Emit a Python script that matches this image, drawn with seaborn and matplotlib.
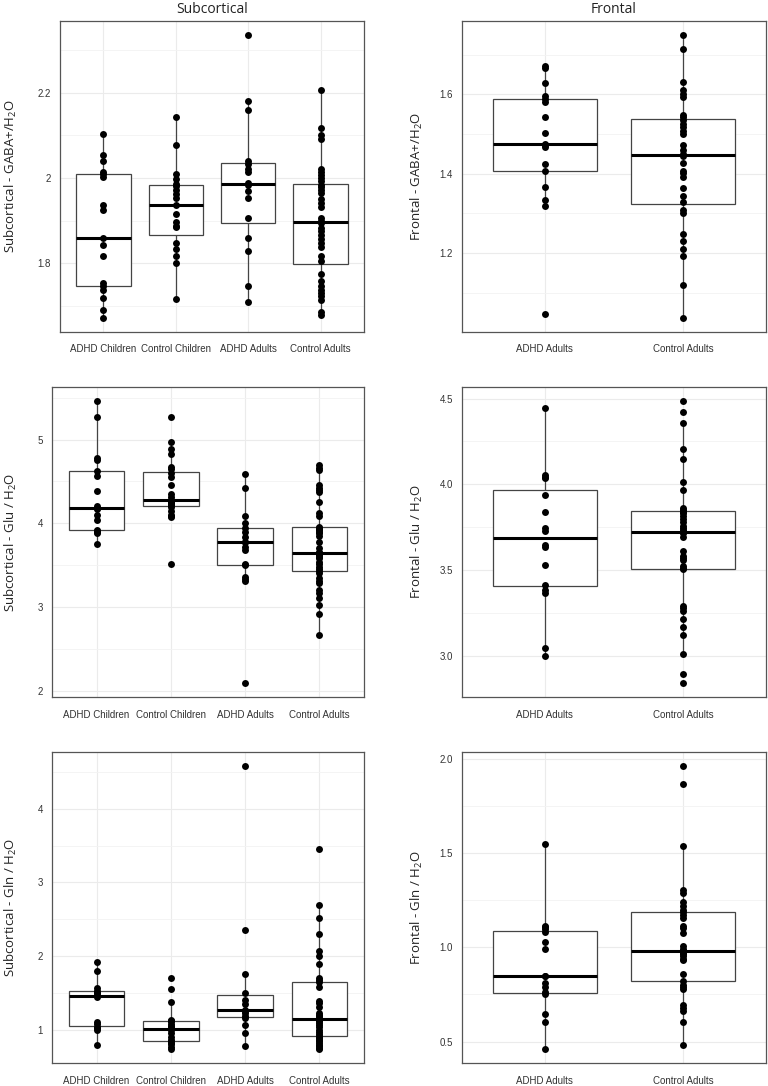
import numpy as np
import pandas as pd
import matplotlib
matplotlib.use('Agg')
import matplotlib.pyplot as plt
import seaborn as sns

# Group names
all_groups = ['ADHD Children', 'Control Children', 'ADHD Adults', 'Control Adults']
adult_groups = ['ADHD Adults', 'Control Adults']

# Subcortical - GABA+/H2O
sub_gaba_adhd_children = [2.103, 2.053, 2.040, 2.013, 2.009, 2.002, 1.936, 1.924, 1.860, 1.842,
                          1.816, 1.752, 1.745, 1.737, 1.718, 1.690, 1.671]
sub_gaba_control_children = [2.144, 2.078, 2.010, 1.997, 1.985, 1.980, 1.972, 1.963, 1.952, 1.936,
                             1.916, 1.897, 1.887, 1.884, 1.848, 1.834, 1.816, 1.800, 1.715]
sub_gaba_adhd_adults = [2.336, 2.180, 2.159, 2.039, 2.034, 2.022, 2.015, 1.988, 1.983, 1.969,
                        1.953, 1.907, 1.859, 1.828, 1.747, 1.708]
sub_gaba_control_adults = [2.206, 2.118, 2.100, 2.092, 2.022, 2.015, 2.008, 2.000, 1.992, 1.984,
                           1.978, 1.972, 1.965, 1.950, 1.941, 1.932, 1.905, 1.900, 1.895, 1.883,
                           1.875, 1.866, 1.857, 1.848, 1.838, 1.816, 1.805, 1.775, 1.758, 1.745,
                           1.736, 1.729, 1.722, 1.712, 1.685, 1.677]

# Frontal - GABA+/H2O
front_gaba_adhd_adults = [1.671, 1.665, 1.629, 1.595, 1.589, 1.581, 1.544, 1.503, 1.476, 1.472,
                          1.467, 1.425, 1.408, 1.366, 1.333, 1.318, 1.047]
front_gaba_control_adults = [1.749, 1.714, 1.632, 1.610, 1.602, 1.593, 1.549, 1.543, 1.536, 1.526,
                             1.518, 1.508, 1.499, 1.473, 1.459, 1.450, 1.444, 1.427, 1.408, 1.402,
                             1.393, 1.365, 1.345, 1.330, 1.309, 1.300, 1.249, 1.230, 1.211, 1.192,
                             1.121, 1.037]

# Subcortical - Glu / H2O
sub_glu_adhd_children = [5.460, 5.274, 4.782, 4.754, 4.620, 4.567, 4.389, 4.210, 4.183, 4.175,
                         4.099, 4.040, 3.915, 3.913, 3.900, 3.881, 3.754]
sub_glu_control_children = [5.274, 4.972, 4.893, 4.833, 4.675, 4.650, 4.600, 4.548, 4.464, 4.349,
                            4.317, 4.284, 4.272, 4.262, 4.250, 4.238, 4.225, 4.214, 4.198, 4.151,
                            4.099, 4.085, 4.071, 3.516]
sub_glu_adhd_adults = [4.595, 4.425, 4.087, 4.000, 3.940, 3.901, 3.841, 3.782, 3.775, 3.722,
                       3.683, 3.510, 3.500, 3.365, 3.333, 3.306, 2.095]
sub_glu_control_adults = [4.702, 4.663, 4.635, 4.456, 4.425, 4.397, 4.377, 4.250, 4.119, 4.091,
                          3.960, 3.950, 3.935, 3.921, 3.900, 3.881, 3.850, 3.774, 3.700, 3.663,
                          3.651, 3.648, 3.640, 3.623, 3.600, 3.583, 3.544, 3.520, 3.484, 3.460,
                          3.437, 3.410, 3.345, 3.306, 3.290, 3.206, 3.167, 3.107, 3.027, 2.917,
                          2.670]

# Frontal - Glu / H2O
front_glu_adhd_adults = [4.442, 4.052, 4.045, 4.035, 3.940, 3.839, 3.744, 3.730, 3.647, 3.633,
                         3.527, 3.414, 3.381, 3.369, 3.047, 2.999]
front_glu_control_adults = [4.485, 4.419, 4.359, 4.208, 4.149, 4.012, 3.965, 3.864, 3.851, 3.847,
                            3.840, 3.835, 3.816, 3.800, 3.779, 3.755, 3.745, 3.734, 3.724, 3.715,
                            3.695, 3.612, 3.579, 3.569, 3.560, 3.525, 3.511, 3.505, 3.292, 3.278,
                            3.259, 3.216, 3.166, 3.119, 3.012, 2.896, 2.842]

# Subcortical - Gln / H2O
sub_gln_adhd_children = [1.920, 1.795, 1.560, 1.530, 1.510, 1.490, 1.466, 1.444, 1.100, 1.070,
                         1.040, 1.020, 0.995, 0.787]
sub_gln_control_children = [1.694, 1.557, 1.375, 1.133, 1.118, 1.110, 1.070, 1.041, 1.030, 0.996,
                            0.951, 0.904, 0.859, 0.840, 0.814, 0.800, 0.767, 0.740]
sub_gln_adhd_adults = [4.580, 2.359, 1.759, 1.490, 1.397, 1.352, 1.262, 1.256, 1.225, 1.188,
                       1.156, 1.064, 0.959, 0.777]
sub_gln_control_adults = [3.456, 2.686, 2.509, 2.305, 2.065, 2.006, 1.897, 1.702, 1.670, 1.650,
                          1.575, 1.385, 1.362, 1.300, 1.227, 1.200, 1.180, 1.160, 1.147, 1.130,
                          1.110, 1.090, 1.060, 1.030, 1.000, 0.970, 0.940, 0.918, 0.900, 0.880,
                          0.860, 0.840, 0.810, 0.790, 0.770, 0.750, 0.737]

# Frontal - Gln / H2O
front_gln_adhd_adults = [1.545, 1.111, 1.105, 1.097, 1.080, 1.028, 0.993, 0.848, 0.846, 0.811,
                         0.790, 0.760, 0.752, 0.648, 0.604, 0.461]
front_gln_control_adults = [1.960, 1.867, 1.534, 1.301, 1.288, 1.239, 1.218, 1.195, 1.186, 1.173,
                            1.156, 1.115, 1.103, 1.076, 1.009, 0.991, 0.979, 0.975, 0.970, 0.962,
                            0.952, 0.940, 0.931, 0.859, 0.821, 0.802, 0.790, 0.781, 0.696, 0.678,
                            0.660, 0.604, 0.484]

# Y ticks and their labels
sub_gaba_ticks = [1.8, 2.0, 2.2]
sub_gaba_labels = ['1.8', '2', '2.2']
front_gaba_ticks = [1.2, 1.4, 1.6]
front_gaba_labels = ['1.2', '1.4', '1.6']
sub_glu_ticks = [2, 3, 4, 5]
sub_glu_labels = ['2', '3', '4', '5']
front_glu_ticks = [3.0, 3.5, 4.0, 4.5]
front_glu_labels = ['3.0', '3.5', '4.0', '4.5']
sub_gln_ticks = [1, 2, 3, 4]
sub_gln_labels = ['1', '2', '3', '4']
front_gln_ticks = [0.5, 1.0, 1.5, 2.0]
front_gln_labels = ['0.5', '1.0', '1.5', '2.0']

sns.set_theme(style='white')
plt.rcParams['font.family'] = ['Liberation Sans', 'DejaVu Sans']

W, H = 768, 1086
fig = plt.figure(figsize=(W / 100, H / 100), dpi=100)


def px_rect(x0, y0, x1, y1):
    return [x0 / W, 1 - y1 / H, (x1 - x0) / W, (y1 - y0) / H]


def make_df(groups, series):
    rows = []
    for g, vals in zip(groups, series):
        for v in vals:
            rows.append({'group': g, 'value': v})
    return pd.DataFrame(rows)


def draw_panel(rect, groups, series, ticks, ticklabels, ylabel, label_x, title=None):
    ax = fig.add_axes(px_rect(*rect))
    df = make_df(groups, series)
    sns.boxplot(data=df, x='group', y='value', order=groups, ax=ax, width=0.75,
                whis=1.5, showfliers=False, showcaps=False, color='white',
                linecolor='#444444', linewidth=0.9,
                medianprops={'color': 'black', 'linewidth': 2.2})
    sns.stripplot(data=df, x='group', y='value', order=groups, ax=ax, jitter=False,
                  color='black', size=5.0, linewidth=0, zorder=4)

    step = ticks[1] - ticks[0]
    minor = [ticks[0] - step / 2] + [t + step / 2 for t in ticks]
    ax.set_yticks(ticks)
    ax.set_yticklabels(ticklabels)
    ax.set_yticks(minor, minor=True)

    # limits after ticks, ggplot-like 5% expansion
    vals = df['value']
    lo, hi = vals.min(), vals.max()
    pad = 0.05 * (hi - lo)
    ax.set_ylim(lo - pad, hi + pad)
    ax.set_xlim(-0.6, len(groups) - 0.4)

    ax.grid(which='major', color='#ebebeb', linewidth=0.8)
    ax.grid(which='minor', axis='y', color='#f3f3f3', linewidth=0.6)
    ax.set_axisbelow(True)

    ax.tick_params(axis='both', which='major', direction='out', length=4, width=0.8,
                   color='#333333', labelsize=7, labelcolor='#333333')
    ax.tick_params(axis='x', pad=5)
    ax.tick_params(axis='y', pad=2.5)
    ax.tick_params(which='minor', length=0)

    for s in ax.spines.values():
        s.set_color('#555555')
        s.set_linewidth(0.9)

    ax.set_xlabel('')
    ax.set_ylabel(ylabel, family=['Open Sans', 'DejaVu Sans'], fontsize=9.5, color='#222222')
    x0, x1 = rect[0], rect[2]
    ax.yaxis.set_label_coords((label_x - x0) / (x1 - x0), 0.5)
    if title:
        ax.set_title(title, family=['Open Sans', 'DejaVu Sans'], fontsize=10,
                     color='#222222', pad=6)
    return ax


draw_panel((60, 21, 364, 332), all_groups,
           [sub_gaba_adhd_children, sub_gaba_control_children,
            sub_gaba_adhd_adults, sub_gaba_control_adults],
           sub_gaba_ticks, sub_gaba_labels,
           r'Subcortical - GABA+/H$_\mathregular{2}$O', 19, title='Subcortical')
draw_panel((462, 21, 766, 332), adult_groups,
           [front_gaba_adhd_adults, front_gaba_control_adults],
           front_gaba_ticks, front_gaba_labels,
           r'Frontal - GABA+/H$_\mathregular{2}$O', 425, title='Frontal')
draw_panel((52, 387, 364, 697), all_groups,
           [sub_glu_adhd_children, sub_glu_control_children,
            sub_glu_adhd_adults, sub_glu_control_adults],
           sub_glu_ticks, sub_glu_labels,
           r'Subcortical - Glu / H$_\mathregular{2}$O', 19)
draw_panel((462, 387, 766, 697), adult_groups,
           [front_glu_adhd_adults, front_glu_control_adults],
           front_glu_ticks, front_glu_labels,
           r'Frontal - Glu / H$_\mathregular{2}$O', 425)
draw_panel((52, 752, 364, 1063), all_groups,
           [sub_gln_adhd_children, sub_gln_control_children,
            sub_gln_adhd_adults, sub_gln_control_adults],
           sub_gln_ticks, sub_gln_labels,
           r'Subcortical - Gln / H$_\mathregular{2}$O', 19)
draw_panel((462, 752, 766, 1063), adult_groups,
           [front_gln_adhd_adults, front_gln_control_adults],
           front_gln_ticks, front_gln_labels,
           r'Frontal - Gln / H$_\mathregular{2}$O', 425)

fig.savefig('out.png', dpi=100, facecolor='white')
